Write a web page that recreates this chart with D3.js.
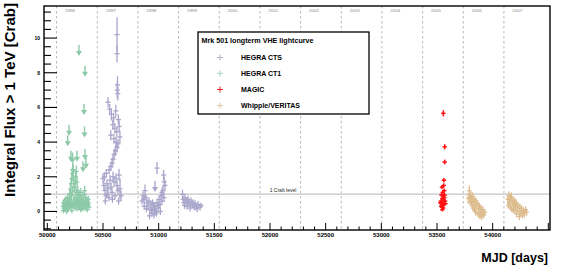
<!DOCTYPE html>
<html><head><meta charset="utf-8">
<script src="https://cdn.jsdelivr.net/npm/d3@7"></script>
<style>
html,body{margin:0;padding:0;background:#fff;}
text{font-family:"Liberation Sans",Arial,Helvetica,sans-serif;}
</style></head>
<body><svg id="c" width="567" height="271"></svg>
<script>
// ---------- data ----------
const yearLabels = ["1996","1997","1998","1999","2000","2001","2002","2003","2004","2005","2006","2007"];
const yearStartMJD = [50083,50449,50814,51179,51544,51910,52275,52640,53005,53371,53736,54101];
const xTicks = [50000,50500,51000,51500,52000,52500,53000,53500,54000];
const yTicks = [0,2,4,6,8,10];
const crabLevel = 1;
const crabLabelMJD = 52117;
const seriesNames = ["HEGRA CTS","HEGRA CT1","MAGIC","Whipple/VERITAS"];

// [MJD, flux, error]
const hegraCTS = [
 [50626,10.2,1.0],[50626,9.1,0.5],
 [50630,7.3,0.5],[50628,7.0,0.45],[50633,6.8,0.4],
 [50545,6.3,0.3],[50560,5.9,0.3],
 [50575,5.6,0.35],[50595,5.4,0.3],[50615,5.8,0.35],[50638,5.3,0.3],[50588,5.0,0.3],[50606,4.8,0.3],[50624,4.6,0.3],[50645,4.9,0.35],[50570,4.4,0.3],[50598,4.2,0.3],[50617,4.0,0.3],[50635,3.9,0.3],[50652,4.3,0.35],
 [50626,3.7,0.3],[50612,3.5,0.3],[50600,3.3,0.3],[50590,3.0,0.3],[50581,2.8,0.3],[50572,2.6,0.25],[50556,2.4,0.25],[50530,2.2,0.25],[50512,2.0,0.25],
 [50500,1.9,0.3],[50508,1.5,0.25],[50518,1.2,0.25],[50527,0.9,0.2],[50536,1.6,0.25],[50545,1.3,0.25],[50554,0.8,0.2],[50563,1.8,0.3],[50572,1.4,0.25],[50581,1.1,0.25],[50590,2.0,0.3],[50599,1.7,0.3],[50608,0.9,0.2],[50617,1.9,0.3],[50626,1.5,0.3],[50635,1.2,0.25],[50644,2.1,0.35],[50653,1.3,0.6],[50662,0.9,0.3],[50520,0.6,0.2],[50540,1.0,0.2],[50585,0.7,0.2],[50640,0.6,0.2],
 [50877,1.2,0.35],[50859,0.9,0.25],[50868,0.7,0.2],[50886,0.8,0.2],[50850,0.6,0.2],[50895,0.5,0.2],[50904,0.3,0.2],[50913,0.6,0.2],[50922,0.1,0.2],[50931,0.4,0.2],[50940,-0.1,0.2],[50949,0.2,0.2],[50958,-0.2,0.2],[50967,0.3,0.2],[50976,0.0,0.2],[50985,0.5,0.2],[50994,0.2,0.2],[51003,0.7,0.2],[51012,0.4,0.2],[51021,0.9,0.25],[51030,0.6,0.2],[51039,1.2,0.3],[51048,0.8,0.25],[51057,1.5,0.3],[50985,2.5,0.35],[51044,2.1,0.3],[51050,1.7,0.3],[51030,1.1,0.25],[50870,0.3,0.2],[50890,0.15,0.2],[50918,-0.25,0.2],[50945,0.5,0.2],[50962,0.1,0.2],[50980,-0.1,0.2],[51000,0.35,0.2],[51015,0.0,0.2],[50935,0.05,0.2],[50955,0.35,0.2],
 [51214,1.0,0.25],[51219,0.7,0.2],[51228,0.5,0.2],[51237,0.8,0.2],[51246,0.6,0.2],[51255,0.3,0.2],[51264,0.7,0.2],[51273,0.45,0.2],[51282,0.2,0.2],[51291,0.6,0.2],[51300,0.35,0.2],[51309,0.5,0.2],[51318,0.25,0.2],[51327,0.45,0.2],[51336,0.3,0.2],[51345,0.15,0.2],[51354,0.4,0.2],[51372,0.25,0.2],[51381,0.35,0.15],[51232,0.35,0.2],[51260,0.55,0.2]
];
// [MJD, upper limit]
const hegraCTSUL = [[50967,1.75]];

const hegraCT1 = [
 [50140,0.3,0.15],[50145,0.5,0.2],[50150,0.2,0.15],[50155,0.6,0.2],[50160,0.4,0.15],[50163,0.1,0.15],[50168,0.7,0.2],[50172,0.35,0.15],[50176,0.55,0.2],[50180,0.2,0.15],
 [50184,0.8,0.25],[50188,0.45,0.2],[50192,0.6,0.2],[50196,0.3,0.15],[50200,1.0,0.25],[50204,0.7,0.2],[50207,1.3,0.3],[50210,0.5,0.2],[50213,1.6,0.3],[50216,0.9,0.25],
 [50219,1.9,0.3],[50222,0.4,0.2],[50225,2.2,0.35],[50228,1.2,0.3],[50231,2.4,0.35],[50234,0.6,0.2],[50237,1.8,0.3],[50240,0.3,0.15],[50243,1.4,0.3],[50246,0.8,0.2],
 [50249,1.6,0.3],[50252,0.5,0.2],[50255,2.0,0.35],[50258,1.1,0.25],[50261,2.3,0.35],[50264,0.7,0.2],[50267,1.7,0.3],[50270,0.4,0.2],[50273,1.2,0.3],[50276,0.9,0.25],
 [50280,0.6,0.2],[50284,1.0,0.25],[50288,0.3,0.15],[50292,0.8,0.2],[50296,0.5,0.2],[50300,1.1,0.25],[50305,0.2,0.15],[50310,0.7,0.2],[50315,0.45,0.2],[50320,0.9,0.25],
 [50325,0.35,0.15],[50330,0.6,0.2],[50335,1.2,0.3],[50340,0.5,0.2],[50345,0.8,0.25],[50350,0.3,0.15],[50356,0.6,0.2],[50362,0.4,0.2],[50368,0.7,0.2],[50375,0.25,0.15],
 [50143,0.05,0.15],[50152,0.45,0.15],[50158,0.15,0.15],[50166,0.3,0.15],[50174,0.0,0.15],[50182,0.5,0.2],[50190,0.15,0.15],[50198,0.55,0.2],[50206,0.25,0.15],[50214,0.35,0.15],
 [50220,0.05,0.15],[50230,0.3,0.15],[50238,0.5,0.2],[50248,0.2,0.15],[50256,0.4,0.15],[50266,0.15,0.15],[50274,0.55,0.2],[50282,0.25,0.15],[50290,0.45,0.2],[50298,0.1,0.15],
 [50308,0.4,0.15],[50318,0.15,0.15],[50328,0.45,0.2],[50338,0.2,0.15],[50348,0.5,0.2],[50358,0.1,0.15],[50366,0.35,0.15],[50372,0.5,0.2]
];
const hegraCT1UL = [[50284,9.6],[50338,8.4],[50329,6.2],[50195,5.0],[50183,4.4],[50334,4.9],[50212,3.5],[50226,3.4],[50266,3.5],[50338,3.6],[50347,3.1],[50230,2.8],[50320,2.9]];

const magic = [
 [53557,5.66,0.18],[53569,3.73,0.15],[53569,2.85,0.14],[53562,1.8,0.13],[53560,1.5,0.12],[53545,1.4,0.12],[53565,1.2,0.12],[53552,1.1,0.12],[53540,0.95,0.11],[53568,0.95,0.11],
 [53548,0.75,0.1],[53558,0.7,0.1],[53535,0.6,0.1],[53553,0.55,0.1],[53572,0.6,0.1],[53542,0.45,0.1],[53563,0.4,0.1],[53550,0.35,0.1],[53545,0.25,0.1],[53556,0.2,0.1],
 [53548,0.1,0.1],[53538,0.3,0.1],[53566,0.8,0.1],[53530,0.5,0.1],[53555,0.9,0.1],[53575,0.45,0.1]
];

const whipple = [
 [53790,1.2,0.3],[53795,0.8,0.25],[53805,0.9,0.25],[53812,0.6,0.2],[53820,0.85,0.25],[53800,0.5,0.2],[53828,0.55,0.2],[53835,0.7,0.2],[53815,0.35,0.2],[53842,0.4,0.2],
 [53850,0.6,0.2],[53825,0.2,0.2],[53858,0.3,0.2],[53865,0.45,0.2],[53838,0.1,0.2],[53872,0.15,0.2],[53880,0.3,0.2],[53848,-0.05,0.2],[53888,0.0,0.2],[53895,0.2,0.2],
 [53870,-0.15,0.2],[53905,-0.1,0.2],[53912,0.1,0.2],[53900,-0.3,0.2],[53920,-0.2,0.2],[53930,-0.05,0.2],[53885,-0.25,0.2],[53808,0.7,0.25],[53780,0.75,0.3],
 [54135,0.7,0.25],[54145,0.9,0.25],[54150,0.55,0.2],[54160,0.75,0.25],[54168,0.85,0.25],[54175,0.5,0.2],[54182,0.65,0.2],[54190,0.4,0.2],[54198,0.6,0.2],[54205,0.3,0.2],
 [54212,0.5,0.2],[54140,0.35,0.2],[54158,0.25,0.2],[54172,0.15,0.2],[54186,0.1,0.2],[54200,0.05,0.2],[54220,0.2,0.2],[54228,0.35,0.2],[54235,0.0,0.2],[54245,0.25,0.2],
 [54252,-0.1,0.2],[54260,0.15,0.2],[54268,-0.2,0.2],[54276,0.05,0.2],[54285,-0.15,0.2],[54295,0.1,0.2],[54305,-0.05,0.2],[54215,-0.15,0.2],[54240,-0.3,0.2],[54195,0.45,0.2]
];

// ---------- layout ----------
const svg = d3.select("#c");
const L=44, R=550, T=6, B=230;
const x = d3.scaleLinear().domain([49970,54515]).range([L,R]);
const y = d3.scaleLinear().domain([-1.07,11.85]).range([B,T]);

const colCTS="#a9a5cb", colCT1="#8cc9a7", colMAGIC="#ff1010", colWhip="#dcbb8c";

// year dashed lines
svg.append("g").selectAll("line").data(yearStartMJD).join("line")
 .attr("x1",d=>x(d)).attr("x2",d=>x(d)).attr("y1",T).attr("y2",B)
 .attr("stroke","#b8b8b8").attr("stroke-width",1).attr("stroke-dasharray","2.5,2.5");
svg.append("g").selectAll("text").data(yearStartMJD).join("text")
 .attr("transform",d=>`translate(${x(d+120)},11.5) scale(1,0.7)`).attr("text-anchor","middle")
 .attr("font-size",4.5).attr("fill","#888")
 .text((d,i)=>yearLabels[i]);

// crab line
svg.append("line").attr("x1",L).attr("x2",R).attr("y1",y(crabLevel)).attr("y2",y(crabLevel))
 .attr("stroke","#c4c4c4").attr("stroke-width",1.3);
svg.append("text").attr("x",x(crabLabelMJD)).attr("y",y(crabLevel)-2.5).attr("text-anchor","middle")
 .attr("font-size",5).attr("fill","#222").text("1 Crab level");

// points
function drawSeries(data,color,hw,sw){
  const g = svg.append("g").attr("stroke",color).attr("stroke-width",sw);
  g.selectAll(".v").data(data).join("line")
   .attr("x1",d=>x(d[0])).attr("x2",d=>x(d[0]))
   .attr("y1",d=>y(d[1]+d[2])).attr("y2",d=>y(d[1]-d[2]));
  g.selectAll(".h").data(data).join("line")
   .attr("x1",d=>x(d[0])-hw).attr("x2",d=>x(d[0])+hw)
   .attr("y1",d=>y(d[1])).attr("y2",d=>y(d[1]));
}
function drawUL(data,color){
  const g = svg.append("g");
  g.selectAll("line").data(data).join("line")
   .attr("x1",d=>x(d[0])).attr("x2",d=>x(d[0]))
   .attr("y1",d=>y(d[1])).attr("y2",d=>y(d[1])+7)
   .attr("stroke",color).attr("stroke-width",1.4);
  g.selectAll("path").data(data).join("path")
   .attr("d",d=>{const cx=x(d[0]), cy=y(d[1])+11; return `M${cx-3},${cy-5}L${cx+3},${cy-5}L${cx},${cy}Z`;})
   .attr("fill",color);
}
drawSeries(hegraCT1,colCT1,2.2,1.3);
drawUL(hegraCT1UL,colCT1);
drawSeries(hegraCTS,colCTS,2.5,1.3);
drawUL(hegraCTSUL,colCTS);
drawSeries(whipple,colWhip,2.2,1.3);
drawSeries(magic,colMAGIC,2.2,1.5);

// axes ticks
const xMinor = d3.range(50000,54501,100);
svg.append("g").selectAll("line").data(xMinor).join("line")
 .attr("x1",d=>x(d)).attr("x2",d=>x(d)).attr("y1",B).attr("y2",d=>B-(d%500===0?7:3.5))
 .attr("stroke","#000").attr("stroke-width",1);
const yMinor = d3.range(-1,11.51,0.5);
svg.append("g").selectAll("line").data(yMinor).join("line")
 .attr("x1",L).attr("x2",d=>L+(Math.abs(d%2)<1e-9?13:7)).attr("y1",d=>y(d)).attr("y2",d=>y(d))
 .attr("stroke","#000").attr("stroke-width",1.1);

// frame
svg.append("rect").attr("x",L).attr("y",T).attr("width",R-L).attr("height",B-T)
 .attr("fill","none").attr("stroke","#000").attr("stroke-width",1.4);

// tick labels
svg.append("g").selectAll("text").data(xTicks).join("text")
 .attr("x",d=>x(d)).attr("y",B+7).attr("text-anchor","middle").attr("font-weight","bold")
 .attr("font-size",6).attr("fill","#000").text(d=>d);
svg.append("g").selectAll("text").data(yTicks).join("text")
 .attr("x",40).attr("y",d=>y(d)+2).attr("text-anchor","end").attr("font-weight","bold")
 .attr("font-size",5).attr("fill","#000").text(d=>d);

// axis titles
svg.append("text").attr("transform","translate(14.5,100) rotate(-90)").attr("text-anchor","middle")
 .attr("font-weight","bold").attr("font-size",14).attr("textLength",194).attr("lengthAdjust","spacingAndGlyphs")
 .text("Integral Flux > 1 TeV [Crab]");
svg.append("text").attr("x",548).attr("y",262).attr("text-anchor","end")
 .attr("font-weight","bold").attr("font-size",12.5).text("MJD [days]");

// legend
const lg = svg.append("g");
lg.append("rect").attr("x",198).attr("y",32).attr("width",171).attr("height",82)
 .attr("fill","#fff").attr("stroke","#000").attr("stroke-width",1.3);
lg.append("text").attr("x",201.5).attr("y",43).attr("font-size",7).attr("font-weight","bold")
 .attr("textLength",112).attr("lengthAdjust","spacingAndGlyphs").text("Mrk 501 longterm VHE lightcurve");
const legCols = ["#b4b4c4","#a6d4c8","#e02828","#e2c8a2"];
const legY = [57.5,73.3,89.5,105.5];
seriesNames.forEach((n,i)=>{
  lg.append("line").attr("x1",217).attr("x2",223).attr("y1",legY[i]).attr("y2",legY[i]).attr("stroke",legCols[i]).attr("stroke-width",1);
  lg.append("line").attr("x1",220).attr("x2",220).attr("y1",legY[i]-3).attr("y2",legY[i]+3).attr("stroke",legCols[i]).attr("stroke-width",1);
  lg.append("text").attr("x",241).attr("y",legY[i]+2.5).attr("font-size",7).attr("font-weight","bold").text(n);
});
</script></body></html>
